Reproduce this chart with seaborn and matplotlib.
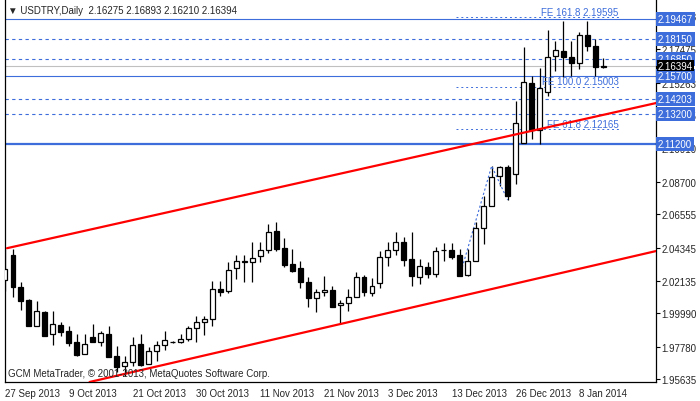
import matplotlib
matplotlib.use("Agg")
import matplotlib.pyplot as plt
import numpy as np
import seaborn as sns

sns.set_theme(style="white")
plt.rcParams["font.family"] = ["Liberation Sans", "DejaVu Sans"]

# daily OHLC
opens = [2.0220,2.0385,2.0173,2.0087,1.9915,2.0008,1.9862,1.9922,1.9882,1.9809,
         1.9730,1.9842,1.9809,1.9862,1.9717,1.9650,1.9677,1.9796,1.9664,1.9750,
         1.9790,1.9809,1.9809,1.9829,1.9902,1.9942,1.9962,2.0160,2.0147,2.0299,
         2.0339,2.0339,2.0379,2.0418,2.0544,2.0432,2.0326,2.0299,2.0207,2.0101,
         2.0140,2.0154,2.0054,2.0067,2.0107,2.0240,2.0134,2.0200,2.0372,2.0418,
         2.0471,2.0359,2.0240,2.0306,2.0260,2.0418,2.0418,2.0385,2.0253,2.0346,
         2.0564,2.0710,2.0908,2.0968,2.0921,2.1127,2.1524,2.1213,2.1464,2.1703,
         2.1736,2.1696,2.1656,2.1842,2.1769,2.16275]
highs = [2.0425,2.0425,2.0207,2.0094,2.0081,2.0015,2.0015,1.9942,1.9915,1.9862,
         1.9862,1.9928,1.9882,1.9915,1.9783,1.9717,1.9842,1.9862,1.9776,1.9816,
         1.9882,1.9816,1.9862,1.9915,1.9981,1.9981,2.0213,2.0213,2.0339,2.0385,
         2.0385,2.0471,2.0471,2.0591,2.0604,2.0498,2.0425,2.0346,2.0240,2.0160,
         2.0246,2.0180,2.0087,2.0160,2.0273,2.0253,2.0233,2.0412,2.0471,2.0538,
         2.0504,2.0538,2.0359,2.0339,2.0438,2.0465,2.0465,2.0425,2.0425,2.0604,
         2.0776,2.0974,2.0974,2.0981,2.1405,2.1762,2.1570,2.1623,2.1875,2.1802,
         2.1934,2.1802,2.1862,2.1934,2.1815,2.16893]
lows = [2.0147,2.0107,2.0021,1.9915,1.9915,1.9849,1.9790,1.9849,1.9783,1.9717,
        1.9730,1.9809,1.9783,1.9710,1.9611,1.9584,1.9650,1.9650,1.9664,1.9684,
        1.9756,1.9803,1.9803,1.9816,1.9809,1.9856,1.9915,2.0114,2.0134,2.0226,
        2.0207,2.0207,2.0339,2.0399,2.0412,2.0306,2.0273,2.0167,2.0041,2.0008,
        2.0114,2.0041,1.9928,2.0015,2.0107,2.0114,2.0114,2.0167,2.0312,2.0385,
        2.0312,2.0180,2.0193,2.0233,2.0240,2.0346,2.0359,2.0246,2.0246,2.0346,
        2.0458,2.0710,2.0842,2.0749,2.0855,2.1127,2.1153,2.1120,2.1438,2.1603,
        2.1564,2.1570,2.1617,2.1736,2.1570,2.16210]
closes = [2.0293,2.0173,2.0081,1.9915,2.0015,1.9849,1.9928,1.9876,1.9803,1.9723,
          1.9796,1.9809,1.9869,1.9710,1.9644,1.9677,1.9790,1.9657,1.9750,1.9790,
          1.9823,1.9812,1.9829,1.9902,1.9942,1.9962,2.0160,2.0140,2.0286,2.0346,
          2.0342,2.0365,2.0418,2.0538,2.0425,2.0319,2.0279,2.0207,2.0101,2.0140,
          2.0154,2.0041,2.0067,2.0107,2.0240,2.0140,2.0180,2.0372,2.0418,2.0471,
          2.0352,2.0246,2.0312,2.0260,2.0412,2.0415,2.0372,2.0246,2.0346,2.0564,
          2.0710,2.0902,2.0968,2.0776,2.1259,2.1531,2.1213,2.1491,2.1696,2.1742,
          2.1696,2.1656,2.1842,2.1769,2.1630,2.16394]

date_labels = ["27 Sep 2013","9 Oct 2013","21 Oct 2013","30 Oct 2013","11 Nov 2013",
               "21 Nov 2013","3 Dec 2013","13 Dec 2013","26 Dec 2013","8 Jan 2014"]

# horizontal levels
h_levels = [2.19467, 2.18150, 2.16850, 2.15700, 2.14203, 2.13200, 2.11200]
h_styles = ["-", "--", "--", "-", "--", "--", "-"]
h_widths = [0.8, 0.8, 0.8, 0.8, 0.8, 0.8, 1.6]
last_price = 2.16394

# fibo expansion
fe_points_x = [57, 61, 63]
fe_points_y = [2.0246, 2.0974, 2.0749]
fe_pct = ["61.8", "100.0", "161.8"]
fe_vals = [2.12165, 2.15003, 2.19595]

# channel lines (bar index, price)
upper_x = [0.25, 81.6]
upper_y = [2.0430, 2.1391]
lower_x = [10.6, 81.6]
lower_y = [1.9544, 2.0411]

yticks = [1.95635,1.97780,1.99990,2.02135,2.04345,2.06555,2.08700,2.10910,
          2.13105,2.15263,2.17475,2.19688]

blue = "#3d6ddb"
fs = 7
fig = plt.figure(figsize=(7, 4.02), dpi=100)
ax = fig.add_axes([5/700, 19/402, 651/700, 383/402])

x = np.arange(len(opens))
o = np.array(opens); c = np.array(closes)
ax.vlines(x, lows, highs, color="black", lw=0.9, zorder=3)
bottoms = np.minimum(o, c)
heights = np.maximum(np.abs(c - o), 0.0002)
cols = ["white" if cc >= oo else "black" for oo, cc in zip(o, c)]
ax.bar(x, heights, bottom=bottoms, width=0.62, color=cols, edgecolor="black",
       linewidth=0.9, zorder=4)

for lv, st, lw in zip(h_levels, h_styles, h_widths):
    ax.axhline(lv, color=blue, ls=st, lw=lw, dashes=(3, 3) if st == "--" else (None, None), zorder=2)
ax.axhline(last_price, color="#c0c0c0", lw=0.8, zorder=1)

for p, v in zip(fe_pct, fe_vals):
    ax.plot([56.5, 77.2], [v, v], color=blue, ls=(0, (2, 3)), lw=0.7, zorder=2)
    ax.text(76.9, v + 0.0003, f"FE {p} {v:.5f}", color=blue, fontsize=fs,
            ha="right", va="bottom", zorder=5)
sns.lineplot(x=fe_points_x, y=fe_points_y, ax=ax, color=blue, lw=0.8,
             linestyle=(0, (2, 2)), zorder=3)

ax.plot(upper_x, upper_y, color="red", lw=1.6, zorder=5)
ax.plot(lower_x, lower_y, color="red", lw=1.6, zorder=5)

ax.set_xlim(0.25, 81.6)
ax.set_ylim(1.9544, 2.2080)
ax.set_xticks(np.arange(0, 80, 8))
ax.set_xticklabels(date_labels, fontsize=fs, ha="left")
ax.yaxis.tick_right()
ax.set_yticks(yticks)
ax.set_yticklabels([f"{t:.5f}" for t in yticks], fontsize=fs)
ax.tick_params(axis="both", direction="out", length=3, width=0.8, color="black", pad=1)
for s in ax.spines.values():
    s.set_color("black"); s.set_linewidth(0.9)
ax.spines["top"].set_visible(False)

# right side level labels
for lv in h_levels:
    ax.text(1.003, lv, f"{lv:.5f}", transform=ax.get_yaxis_transform(), color="white",
            fontsize=fs, va="center", ha="left", zorder=6, clip_on=False,
            bbox=dict(facecolor=blue, edgecolor="none", pad=1.5))
ax.text(1.003, last_price, f"{last_price:.5f}", transform=ax.get_yaxis_transform(),
        color="white", fontsize=fs, va="center", ha="left", zorder=7, clip_on=False,
        bbox=dict(facecolor="black", edgecolor="none", pad=0.5))

ax.text(0.005, 0.985, "▼ USDTRY,Daily  2.16275 2.16893 2.16210 2.16394",
        transform=ax.transAxes, fontsize=fs, va="top", ha="left")
ax.text(0.005, 0.01, "GCM MetaTrader, © 2001-2013, MetaQuotes Software Corp.",
        transform=ax.transAxes, fontsize=fs, va="bottom", ha="left", zorder=8)

fig.savefig("out.png", dpi=100)
